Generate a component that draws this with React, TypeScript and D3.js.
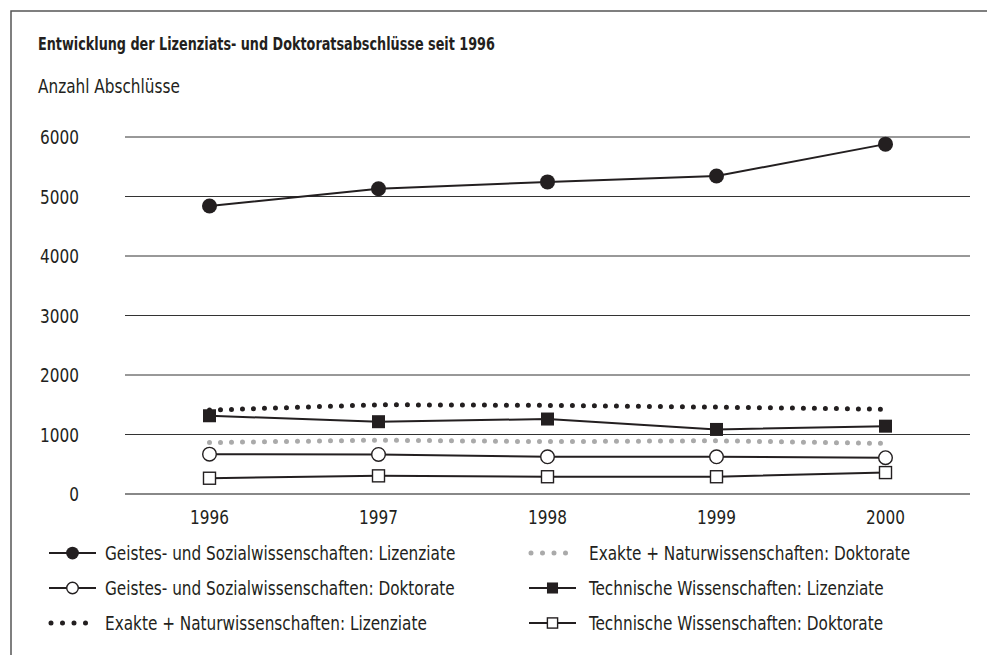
import { useEffect } from "react";
import * as d3 from "d3";

const years = ["1996", "1997", "1998", "1999", "2000"];
const yTicks = [0, 1000, 2000, 3000, 4000, 5000, 6000];

const geistesLiz = [4840, 5130, 5245, 5345, 5880];
const geistesDok = [670, 665, 625, 625, 610];
const exakteLiz = [1410, 1500, 1490, 1460, 1425];
const exakteDok = [865, 905, 880, 895, 850];
const technLiz = [1315, 1215, 1260, 1085, 1140];
const technDok = [265, 305, 290, 290, 360];

const W = 987;
const H = 655;
const INK = "#231f20";
const FONT = "'DejaVu Sans Condensed', 'DejaVu Sans', sans-serif";

type Kind = "dot" | "circle" | "square" | "open-square" | "dots" | "gray-dots";

const series: { name: string; values: number[]; kind: Kind }[] = [
  { name: "Geistes- und Sozialwissenschaften: Lizenziate", values: geistesLiz, kind: "dot" },
  { name: "Geistes- und Sozialwissenschaften: Doktorate", values: geistesDok, kind: "circle" },
  { name: "Exakte + Naturwissenschaften: Lizenziate", values: exakteLiz, kind: "dots" },
  { name: "Exakte + Naturwissenschaften: Doktorate", values: exakteDok, kind: "gray-dots" },
  { name: "Technische Wissenschaften: Lizenziate", values: technLiz, kind: "square" },
  { name: "Technische Wissenschaften: Doktorate", values: technDok, kind: "open-square" },
];

// dotted series first so the markers sit on top
const drawOrder = [3, 2, 5, 1, 4, 0];

// condensed look: larger font squeezed horizontally
function CText(props: {
  x: number;
  y: number;
  size?: number;
  sx?: number;
  anchor?: "start" | "middle" | "end";
  bold?: boolean;
  children: React.ReactNode;
}) {
  const { x, y, size = 20, sx = 0.85, anchor = "start", bold, children } = props;
  return (
    <g transform={`translate(${x},${y}) scale(${sx},1)`}>
      <text fontSize={size} textAnchor={anchor} fontWeight={bold ? "bold" : "normal"} fill={INK}>
        {children}
      </text>
    </g>
  );
}

function Marker({ kind, cx, cy, legend }: { kind: Kind; cx: number; cy: number; legend?: boolean }) {
  const s = legend ? 0.85 : 1;
  if (kind === "dot") return <circle cx={cx} cy={cy} r={7.5 * s} fill={INK} />;
  if (kind === "circle")
    return <circle cx={cx} cy={cy} r={6.8 * s} fill="#fff" stroke={INK} strokeWidth={1.4} />;
  if (kind === "square") {
    const a = 13 * s;
    return <rect x={cx - a / 2} y={cy - a / 2} width={a} height={a} fill={INK} />;
  }
  if (kind === "open-square") {
    const a = 12 * s;
    return <rect x={cx - a / 2} y={cy - a / 2} width={a} height={a} fill="#fff" stroke={INK} strokeWidth={1.4} />;
  }
  return null;
}

export default function App() {
  useEffect(() => {
    document.body.style.margin = "0";
  }, []);

  const x = d3.scaleBand<string>().domain(years).range([125, 970]);
  const y = d3.scaleLinear().domain([0, 6000]).range([494, 137]);
  const cx = (yr: string) => (x(yr) as number) + x.bandwidth() / 2;

  const line = d3
    .line<number>()
    .x((_, i) => cx(years[i]))
    .y((d) => y(d));

  const legendRows = [553, 588, 623];
  const legendCols = [49, 529];

  return (
    <svg width={W} height={H} style={{ display: "block", fontFamily: FONT }}>
      <rect x={0} y={0} width={W} height={H} fill="#fff" />
      <rect x={11} y={11} width={W + 20} height={H + 20} fill="none" stroke="#555" strokeWidth={1.5} />

      <CText x={38} y={50} size={18} sx={0.79} bold>
        Entwicklung der Lizenziats- und  Doktoratsabschlüsse seit 1996
      </CText>
      <CText x={38} y={93}>Anzahl Abschlüsse</CText>

      {yTicks.map((t) => (
        <g key={t}>
          <line
            x1={125}
            x2={970}
            y1={y(t)}
            y2={y(t)}
            stroke={t === 0 ? "#888" : "#333"}
            strokeWidth={t === 0 ? 2 : 1}
          />
          <CText x={79} y={y(t) + 7} anchor="end">
            {t}
          </CText>
        </g>
      ))}

      {years.map((yr) => (
        <CText key={yr} x={cx(yr)} y={524} anchor="middle">
          {yr}
        </CText>
      ))}

      {drawOrder.map((i) => {
        const s = series[i];
        const dotted = s.kind === "dots" || s.kind === "gray-dots";
        return (
          <g key={s.name}>
            <path
              d={line(s.values) || ""}
              fill="none"
              stroke={s.kind === "gray-dots" ? "#aaa" : INK}
              strokeWidth={dotted ? 5 : 2}
              strokeLinecap={dotted ? "round" : "butt"}
              strokeDasharray={dotted ? "0 11" : undefined}
            />
            {!dotted &&
              s.values.map((v, j) => <Marker key={j} kind={s.kind} cx={cx(years[j])} cy={y(v)} />)}
          </g>
        );
      })}

      {series.map((s, i) => {
        const col = Math.floor(i / 3);
        const row = i % 3;
        const x0 = legendCols[col];
        const yy = legendRows[row];
        const dotted = s.kind === "dots" || s.kind === "gray-dots";
        return (
          <g key={s.name}>
            {dotted ? (
              <line
                x1={x0 + 2}
                x2={x0 + 40}
                y1={yy}
                y2={yy}
                stroke={s.kind === "gray-dots" ? "#aaa" : INK}
                strokeWidth={5}
                strokeLinecap="round"
                strokeDasharray="0 11.5"
              />
            ) : (
              <>
                <line x1={x0} x2={x0 + 47} y1={yy} y2={yy} stroke={INK} strokeWidth={2} />
                <Marker kind={s.kind} cx={x0 + 23.5} cy={yy} legend />
              </>
            )}
            <CText x={x0 + (col === 0 ? 56 : 60)} y={yy + 7}>
              {s.name}
            </CText>
          </g>
        );
      })}
    </svg>
  );
}
